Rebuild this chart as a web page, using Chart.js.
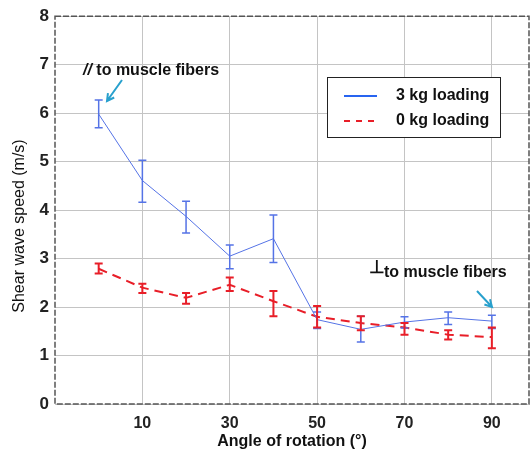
<!DOCTYPE html>
<html>
<head>
<meta charset="utf-8">
<script src="https://cdn.jsdelivr.net/npm/chart.js@4"></script>
<style>
  html, body { margin: 0; padding: 0; background: #fff; }
  #wrap { width: 530px; height: 455px; position: relative; }
</style>
</head>
<body>
<div id="wrap"><canvas id="chart"></canvas></div>
<script>
// Angles (degrees) and shear wave speed (m/s)
const angles = [0, 10, 20, 30, 40, 50, 60, 70, 80, 90];
const load3Mean = [5.98, 4.61, 3.87, 3.05, 3.41, 1.74, 1.54, 1.69, 1.78, 1.71];
const load3Low  = [5.70, 4.16, 3.53, 2.79, 2.92, 1.56, 1.28, 1.57, 1.64, 1.56];
const load3High = [6.27, 5.03, 4.18, 3.28, 3.90, 1.90, 1.81, 1.80, 1.90, 1.83];
const load0Mean = [2.79, 2.40, 2.19, 2.46, 2.12, 1.80, 1.67, 1.58, 1.43, 1.38];
const load0Low  = [2.69, 2.29, 2.07, 2.33, 1.81, 1.58, 1.52, 1.43, 1.33, 1.15];
const load0High = [2.90, 2.48, 2.29, 2.61, 2.33, 2.02, 1.81, 1.67, 1.52, 1.58];
const xTicks = [10, 30, 50, 70, 90];
const yTicks = [0, 1, 2, 3, 4, 5, 6, 7, 8];

const blue = 'rgb(85,115,230)';
const red = 'rgb(232,30,40)';
const arrowColor = 'rgb(40,160,205)';
const fam = '"Liberation Sans", Arial, sans-serif';
const labelFont = 'bold 16px ' + fam;

function toPoints(means) {
    return angles.map((a, i) => ({ x: a, y: means[i] }));
}

// Draws vertical error bars with small caps
const errorBars = {
    id: 'errorBars',
    afterDatasetsDraw(chart) {
        const ctx = chart.ctx;
        const xs = chart.scales.x;
        const ys = chart.scales.y;
        const sets = [
            { low: load3Low, high: load3High, color: blue, width: 1.5 },
            { low: load0Low, high: load0High, color: red, width: 2 }
        ];
        ctx.save();
        sets.forEach(s => {
            ctx.strokeStyle = s.color;
            ctx.lineWidth = s.width;
            ctx.setLineDash([]);
            angles.forEach((a, i) => {
                const px = xs.getPixelForValue(a);
                const y1 = ys.getPixelForValue(s.low[i]);
                const y2 = ys.getPixelForValue(s.high[i]);
                ctx.beginPath();
                ctx.moveTo(px, y1); ctx.lineTo(px, y2);
                ctx.moveTo(px - 4, y1); ctx.lineTo(px + 4, y1);
                ctx.moveTo(px - 4, y2); ctx.lineTo(px + 4, y2);
                ctx.stroke();
            });
        });
        ctx.restore();
    }
};

// Dashed frame, legend box, y title and annotations
const decorations = {
    id: 'decorations',
    afterDraw(chart) {
        const ctx = chart.ctx;
        const a = chart.chartArea;
        const xs = chart.scales.x;
        const ys = chart.scales.y;
        ctx.save();

        // frame
        ctx.strokeStyle = '#555';
        ctx.lineWidth = 1.5;
        ctx.setLineDash([6, 2]);
        ctx.strokeRect(a.left, a.top, a.right - a.left, a.bottom - a.top);
        ctx.setLineDash([]);

        // y axis title
        ctx.save();
        ctx.translate(20, 226);
        ctx.rotate(-Math.PI / 2);
        ctx.fillStyle = '#111';
        ctx.font = '16px ' + fam;
        ctx.textAlign = 'center';
        ctx.textBaseline = 'middle';
        ctx.fillText('Shear wave speed (m/s)', 0, 0);
        ctx.restore();

        // legend
        ctx.fillStyle = '#fff';
        ctx.fillRect(327, 77, 173, 60);
        ctx.strokeStyle = '#222';
        ctx.lineWidth = 1;
        ctx.strokeRect(327.5, 77.5, 173, 60);
        ctx.lineWidth = 2;
        ctx.strokeStyle = 'rgb(40,100,240)';
        ctx.beginPath(); ctx.moveTo(344, 96); ctx.lineTo(377, 96); ctx.stroke();
        ctx.strokeStyle = red;
        ctx.setLineDash([6, 6]);
        ctx.beginPath(); ctx.moveTo(344, 121); ctx.lineTo(378, 121); ctx.stroke();
        ctx.setLineDash([]);
        ctx.fillStyle = '#111';
        ctx.font = labelFont;
        ctx.textBaseline = 'middle';
        ctx.textAlign = 'left';
        ctx.fillText('3 kg loading', 396, 96);
        ctx.fillText('0 kg loading', 396, 121);

        // annotations
        ctx.font = 'italic bold 16px ' + fam;
        ctx.fillText('//', 83, 71);
        const w = ctx.measureText('//').width;
        ctx.font = labelFont;
        ctx.fillText(' to muscle fibers', 83 + w, 71);
        ctx.font = 'bold 18px ' + fam;
        ctx.fillText('\u22A5', 369, 268);
        ctx.font = labelFont;
        ctx.fillText('to muscle fibers', 384, 273);

        drawArrow(ctx, 122, 80, 107, 101);
        drawArrow(ctx, 477, 291, 492, 307);
        ctx.restore();
    }
};

function drawArrow(ctx, x1, y1, x2, y2) {
    const ang = Math.atan2(y2 - y1, x2 - x1);
    ctx.strokeStyle = arrowColor;
    ctx.lineWidth = 2;
    ctx.beginPath();
    ctx.moveTo(x1, y1);
    ctx.lineTo(x2, y2);
    ctx.moveTo(x2 - 8 * Math.cos(ang - 0.5), y2 - 8 * Math.sin(ang - 0.5));
    ctx.lineTo(x2, y2);
    ctx.lineTo(x2 - 8 * Math.cos(ang + 0.5), y2 - 8 * Math.sin(ang + 0.5));
    ctx.stroke();
}

new Chart(document.getElementById('chart'), {
    type: 'line',
    data: {
        datasets: [{
            label: '3 kg loading',
            data: toPoints(load3Mean),
            borderColor: blue,
            borderWidth: 1,
            pointRadius: 0,
            fill: false,
            tension: 0
        }, {
            label: '0 kg loading',
            data: toPoints(load0Mean),
            borderColor: red,
            borderWidth: 2,
            borderDash: [9, 6],
            pointRadius: 0,
            fill: false,
            tension: 0
        }]
    },
    options: {
        responsive: true,
        maintainAspectRatio: false,
        animation: false,
        layout: { padding: { left: 0, right: 1, top: 15, bottom: 0 } },
        plugins: {
            legend: { display: false },
            tooltip: { enabled: false }
        },
        scales: {
            x: {
                type: 'linear',
                min: -10,
                max: 98.5,
                afterBuildTicks: function(scale) {
                    scale.ticks = xTicks.map(v => ({ value: v }));
                },
                afterFit: function(scale) { scale.height = 51; },
                grid: { color: '#c4c4c4', lineWidth: 1, drawTicks: false },
                border: { display: false },
                ticks: {
                    color: '#222',
                    padding: 10,
                    font: { family: '"Liberation Sans", Arial', size: 16, weight: 'bold' }
                },
                title: {
                    display: true,
                    text: 'Angle of rotation (°)',
                    color: '#111',
                    padding: { top: 0, bottom: 4 },
                    font: { family: '"Liberation Sans", Arial', size: 16, weight: 'bold' }
                }
            },
            y: {
                min: 0,
                max: 8,
                afterBuildTicks: function(scale) {
                    scale.ticks = yTicks.map(v => ({ value: v }));
                },
                afterFit: function(scale) { scale.width = 55; },
                grid: { color: '#c4c4c4', lineWidth: 1, drawTicks: false },
                border: { display: false },
                ticks: {
                    color: '#222',
                    padding: 6,
                    font: { family: '"Liberation Sans", Arial', size: 17, weight: 'bold' }
                }
            }
        }
    },
    plugins: [errorBars, decorations]
});
</script>
</body>
</html>
